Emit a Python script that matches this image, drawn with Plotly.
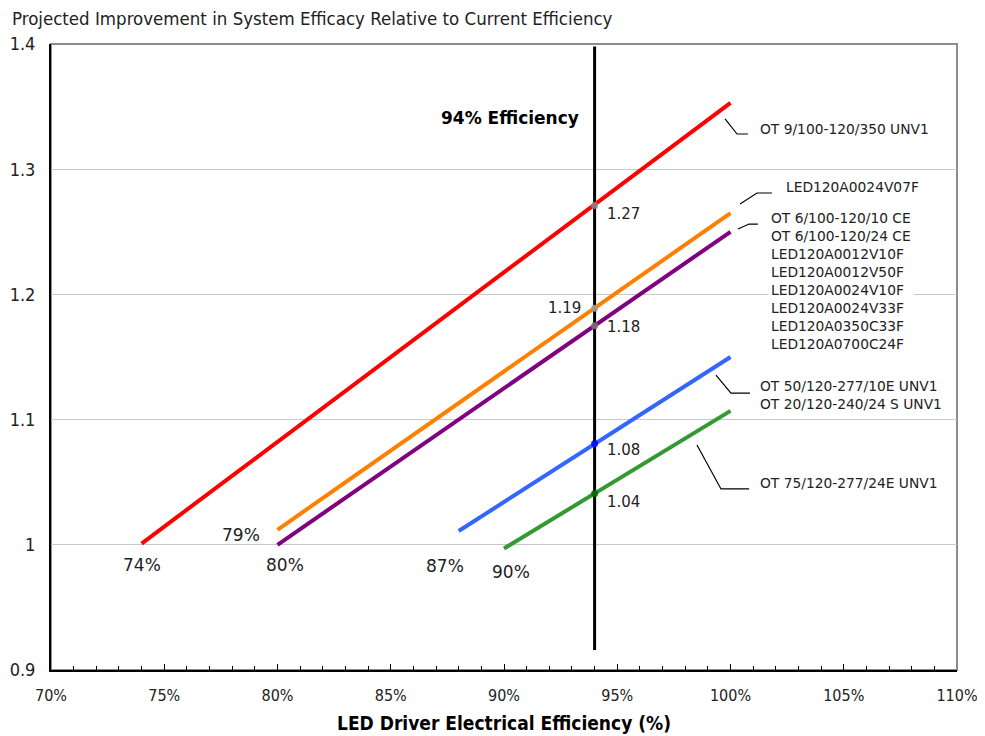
import plotly.graph_objects as go

# ---- data ----
series_names = ["OT 9/100-120/350 UNV1", "LED120A0024V07F", "OT 6/100-120/10 CE group",
                "OT 50/120-277/10E UNV1 group", "OT 75/120-277/24E UNV1"]
series_colors = ["#FF0000", "#FF8000", "#800080", "#3366FF", "#339933"]
marker_colors = ["#888888", "#999999", "#777777", "#0000FF", "#006600"]
x_start = [0.74, 0.80, 0.80, 0.88, 0.90]
x_end = [1.00, 1.00, 1.00, 1.00, 1.00]
y_start = [1.001, 1.012, 1.000, 1.011, 0.997]
y_end = [1.353, 1.265, 1.250, 1.150, 1.107]
x_ref = 0.94
y_at_ref = [1.271, 1.189, 1.175, 1.081, 1.041]
ref_labels = ["1.27", "1.19", "1.18", "1.08", "1.04"]
base_labels = ["74%", "79%", "80%", "87%", "90%"]
base_x = [0.74, 0.79, 0.80, 0.87, 0.90]
ref_line_y = [0.916, 1.398]

device_labels = [
    "OT 9/100-120/350 UNV1",
    "LED120A0024V07F",
    "OT 6/100-120/10 CE<br>OT 6/100-120/24 CE<br>LED120A0012V10F<br>LED120A0012V50F<br>"
    "LED120A0024V10F<br>LED120A0024V33F<br>LED120A0350C33F<br>LED120A0700C24F",
    "OT 50/120-277/10E UNV1<br>OT 20/120-240/24 S UNV1",
    "OT 75/120-277/24E UNV1",
]

x_ticks = [0.70, 0.75, 0.80, 0.85, 0.90, 0.95, 1.00, 1.05, 1.10]
x_tick_text = ["70%", "75%", "80%", "85%", "90%", "95%", "100%", "105%", "110%"]
y_ticks = [0.9, 1.0, 1.1, 1.2, 1.3, 1.4]
y_tick_text = ["0.9", "1", "1.1", "1.2", "1.3", "1.4"]

ANN_FONT = "DejaVu Sans"
AX_FONT = "DejaVu Sans Condensed, DejaVu Sans"

fig = go.Figure()

# reference 94% line
fig.add_trace(go.Scatter(x=[x_ref, x_ref], y=ref_line_y, mode="lines",
                         line=dict(color="black", width=3), showlegend=False, hoverinfo="skip"))

for i in range(len(series_names)):
    fig.add_trace(go.Scatter(x=[x_start[i], x_end[i]], y=[y_start[i], y_end[i]],
                             mode="lines", line=dict(color=series_colors[i], width=4),
                             name=series_names[i], showlegend=False))

fig.add_trace(go.Scatter(x=[x_ref] * len(y_at_ref), y=y_at_ref, mode="markers",
                         marker=dict(color=marker_colors, size=7, opacity=0.85),
                         showlegend=False, hoverinfo="skip"))

# value labels at 94 %
ref_shift = [(10, -8, "left"), (-12, 0, "right"), (10, -1, "left"), (10, -7, "left"), (10, -9, "left")]
for lab, yv, (xs, ys, anc) in zip(ref_labels, y_at_ref, ref_shift):
    fig.add_annotation(x=x_ref, y=yv, text=lab, showarrow=False, xanchor=anc, yanchor="middle",
                       xshift=xs, yshift=ys, font=dict(family=ANN_FONT, size=15, color="#222222"))

# base efficiency labels
base_shift = [(0, -20), (-14, 10), (7, -20), (9, -21), (7, -27)]
for lab, xv, (xs, ys) in zip(base_labels, base_x, base_shift):
    fig.add_annotation(x=xv, y=1.0, text=lab, showarrow=False, xanchor="center", yanchor="middle",
                       xshift=xs, yshift=ys, font=dict(family=ANN_FONT, size=17, color="#222222"))

fig.add_annotation(x=x_ref, y=1.3406, text="<b>94% Efficiency</b>", showarrow=False,
                   xanchor="right", yanchor="middle", xshift=-14,
                   font=dict(family=ANN_FONT, size=17, color="black"))

# device labels
label_pos = [(1.0130, 1.3321), (1.0245, 1.2858), (1.0179, 1.2111), (1.0130, 1.1196), (1.0130, 1.0494)]
for txt, (xv, yv) in zip(device_labels, label_pos):
    fig.add_annotation(x=xv, y=yv, text=txt, showarrow=False, xanchor="left", yanchor="middle",
                       align="left", bgcolor="white", borderpad=2, xshift=-3,
                       font=dict(family=ANN_FONT, size=13.8, color="#222222"))

# leader lines
leaders = [
    [(0.9976, 1.3401), (1.0029, 1.3281), (1.0077, 1.3281)],
    [(1.0042, 1.2722), (1.0117, 1.2810), (1.0183, 1.2810)],
    [(1.0033, 1.2522), (1.0082, 1.2562), (1.0121, 1.2562)],
    [(0.9936, 1.1356), (1.0002, 1.1212), (1.0086, 1.1212)],
    [(0.9852, 1.0797), (0.9958, 1.0446), (1.0082, 1.0446)],
]
for pts in leaders:
    path = "M {} {} L {} {} L {} {}".format(*[c for p in pts for c in p])
    fig.add_shape(type="path", path=path, xref="x", yref="y",
                  line=dict(color="black", width=1.2))

# grey frame (top/right)
fig.add_shape(type="rect", xref="paper", yref="paper", x0=0, y0=0, x1=1, y1=1,
              line=dict(color="#8C8C8C", width=2), layer="below")

fig.update_layout(
    width=985, height=736,
    margin=dict(l=43, r=36, t=36, b=74),
    paper_bgcolor="white", plot_bgcolor="white",
    title=dict(text="Projected Improvement in System Efficacy Relative to Current Efficiency",
               x=4 / 985, xanchor="left", xref="container", y=1 - 11 / 736, yanchor="middle",
               font=dict(family=AX_FONT, size=18.5, color="#222222")),
    xaxis=dict(range=[0.70, 1.10], tickvals=x_ticks, ticktext=x_tick_text,
               showgrid=False, zeroline=False, automargin=False,
               showline=True, linecolor="black", linewidth=2,
               ticks="inside", ticklen=6, tickcolor="black", tickwidth=1,
               minor=dict(dtick=0.01, ticks="inside", ticklen=4, tickcolor="black", showgrid=False),
               tickfont=dict(family=AX_FONT, size=16, color="#222222"),
               ticklabelstandoff=10,
               title=dict(text="<b>LED Driver Electrical Efficiency (%)</b>", standoff=12,
                          font=dict(family=AX_FONT, size=19, color="black"))),
    yaxis=dict(range=[0.9, 1.4], tickvals=y_ticks, ticktext=y_tick_text,
               showgrid=True, gridcolor="#C8C8C8", gridwidth=1, zeroline=False, automargin=False,
               showline=True, linecolor="black", linewidth=2, ticks="",
               tickfont=dict(family=AX_FONT, size=18, color="#222222"),
               ticklabelstandoff=10),
)

fig.write_html("out.html")
